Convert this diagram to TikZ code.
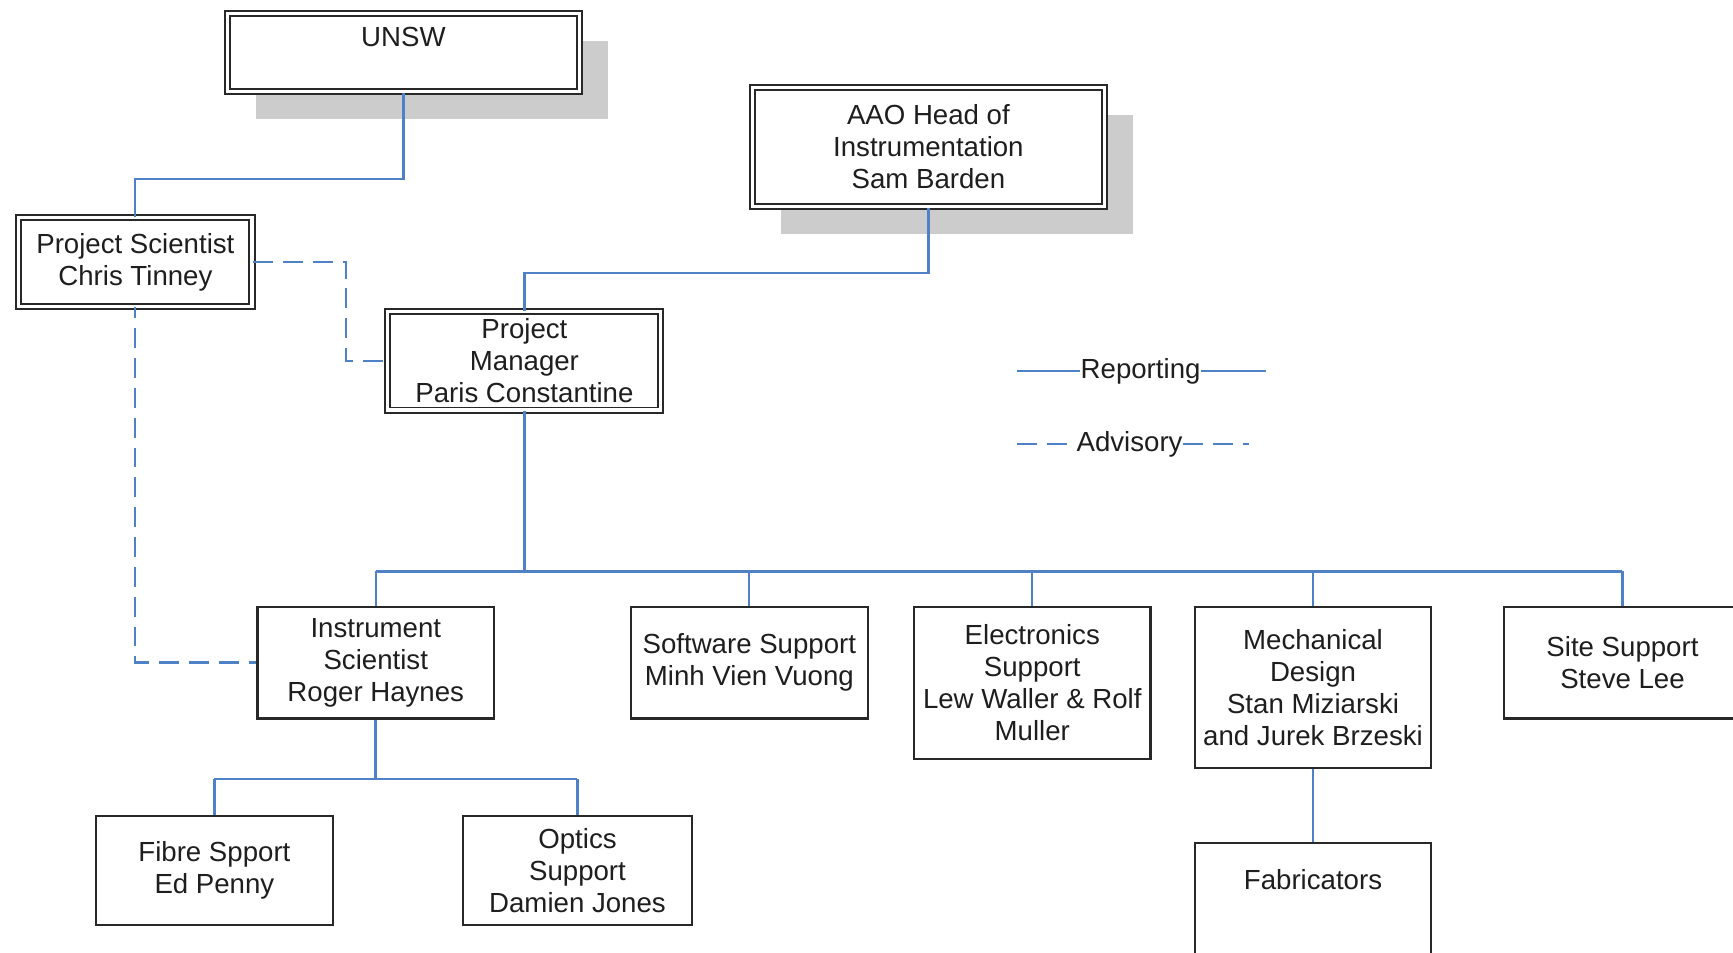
\documentclass[tikz,border=0pt]{standalone}
\usepackage{fontspec}
\setmainfont{Liberation Sans}
\usetikzlibrary{shadows}
\definecolor{linkblue}{RGB}{79,129,199}
\definecolor{boxline}{RGB}{40,40,40}
\definecolor{txt}{RGB}{30,30,30}
\tikzset{
  every node/.style={font=\fontsize{12.5}{14.5}\selectfont, text=txt, align=center},
  unit/.style={draw=boxline, line width=1pt, fill=white, inner sep=0pt, minimum width=107pt},
  headbox/.style={draw=boxline, double=white, line width=0.9pt, double distance=1.4pt, fill=white, inner sep=0pt},
  shadowed/.style={drop shadow={shadow xshift=13pt, shadow yshift=-12.5pt, fill=black!20, opacity=1}},
  rep/.style={draw=linkblue, line width=1pt},
  adv/.style={draw=linkblue, line width=1pt, dash pattern=on 9pt off 4.5pt},
  lbl/.style={inner sep=0pt}
}
\begin{document}
\begin{tikzpicture}[x=0.5pt, y=-0.5pt]
\useasboundingbox (0,0) rectangle (1568,862);
\clip (0,0) rectangle (1568,862);

% head boxes
\node[headbox, shadowed, minimum width=159pt, minimum height=35.5pt,
      label={[anchor=center, yshift=-11pt]north:UNSW}] (unsw) at (365,47.5) {};
\node[headbox, shadowed, minimum width=159pt, minimum height=54pt] (aao) at (840,133)
  {AAO Head of\\Instrumentation\\Sam Barden};
\node[headbox, minimum width=105.5pt, minimum height=40pt] (ps) at (122.5,237)
  {Project Scientist\\Chris Tinney};
\node[headbox, minimum width=123.5pt, minimum height=44.5pt] (pm) at (474.5,326.5)
  {Project\\Manager\\Paris Constantine};

% units
\node[unit, minimum height=50.5pt] (is) at (340,599.5) {Instrument\\Scientist\\Roger Haynes};
\node[unit, minimum height=50.5pt] (sw) at (678,599.5) {Software Support\\Minh Vien Vuong};
\node[unit, minimum height=69pt] (el) at (934,618) {Electronics\\Support\\Lew Waller \& Rolf\\Muller};
\node[unit, minimum height=73pt] (me) at (1188,622) {Mechanical\\Design\\Stan Miziarski\\and Jurek Brzeski};
\node[unit, minimum height=50.5pt] (si) at (1468,599.5) {Site Support\\Steve Lee};
\node[unit, minimum height=67pt,
      label={[anchor=center, yshift=-17pt]north:Fabricators}] (fa) at (1188,830) {};
\node[unit, minimum height=49.5pt] (fb) at (194,787.5) {Fibre Spport\\Ed Penny};
\node[unit, minimum width=103.5pt, minimum height=49.5pt] (op) at (522.5,787.5) {Optics\\Support\\Damien Jones};

% bend levels
\coordinate (lv1) at (0,162);
\coordinate (lv2) at (0,247);
\coordinate (bus) at (474.5,517);
\coordinate (bus2) at (340,705);

% reporting lines
\draw[rep] (unsw.south) -- (unsw.south |- lv1) -| (ps.north);
\draw[rep] (aao.south) -- (aao.south |- lv2) -| (pm.north);
\draw[rep, line width=1.3pt] (pm.south) -- (bus);
\draw[rep] (is.north |- bus) -- (si.north |- bus);
\foreach \n in {is,sw,el,me,si} \draw[rep] (\n.north |- bus) -- (\n.north);
\draw[rep, line width=1.3pt] (is.south) -- (bus2);
\draw[rep] (fb.north |- bus2) -- (op.north |- bus2);
\foreach \n in {fb,op} \draw[rep] (\n.north |- bus2) -- (\n.north);
\draw[rep] (me.south) -- (fa.north);

% advisory lines
\draw[adv] (ps.east) -- ++(84,0) |- (pm.west);
\draw[adv, dash phase=4pt] (ps.south) |- (is.west);

% legend
\node[lbl] (lrep) at (1032,336) {Reporting};
\coordinate (lrepa) at (920,336);
\coordinate (lrepb) at (1145,336);
\draw[rep] (lrepa) -- (lrep.west);
\draw[rep] (lrep.east) -- (lrepb);
\node[lbl] (ladv) at (1022,402) {Advisory};
\coordinate (ladva) at (920,402);
\coordinate (ladvb) at (1130,402);
\draw[adv] (ladva) -- ([xshift=-2pt]ladv.west);
\draw[adv] (ladv.east) -- (ladvb);
\end{tikzpicture}
\end{document}
